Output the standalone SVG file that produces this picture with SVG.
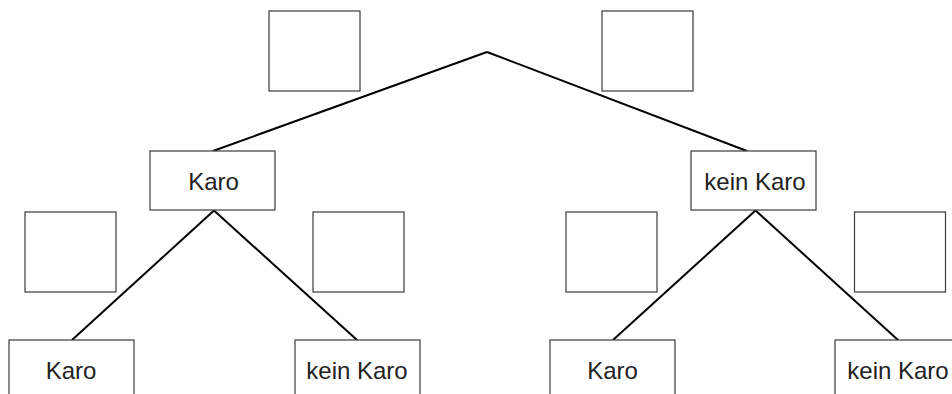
<svg xmlns="http://www.w3.org/2000/svg" width="952" height="394" viewBox="0 0 952 394">
<style>
.box{fill:#fff;stroke:#3a3a3a;stroke-width:1.2}
.lbl{font-family:"Liberation Sans",Arial,sans-serif;font-size:24px;fill:#222;text-anchor:middle}
.edge{stroke:#000;stroke-width:2;fill:none}
</style>
<rect width="952" height="394" fill="#fff"/>
<g id="connectors">
<line class="edge" x1="487" y1="52" x2="213" y2="151"/>
<line class="edge" x1="487" y1="52" x2="747" y2="151"/>
<line class="edge" x1="214" y1="210.5" x2="72" y2="340"/>
<line class="edge" x1="214" y1="210.5" x2="357" y2="340"/>
<line class="edge" x1="755.5" y1="210.5" x2="613" y2="340"/>
<line class="edge" x1="755.5" y1="210.5" x2="898" y2="340"/>
</g>
<g id="prob-top-left"><rect class="box" x="269" y="11" width="91" height="80"/></g>
<g id="prob-top-right"><rect class="box" x="602" y="11" width="91" height="80"/></g>
<g id="prob-l-l"><rect class="box" x="25" y="212" width="91" height="80"/></g>
<g id="prob-l-r"><rect class="box" x="313" y="212" width="91" height="80"/></g>
<g id="prob-r-l"><rect class="box" x="566" y="212" width="91" height="80"/></g>
<g id="prob-r-r"><rect class="box" x="854.5" y="212" width="91" height="80"/></g>
<g id="node-karo"><rect class="box" x="150" y="151" width="125" height="59"/><text class="lbl" x="213.5" y="190">Karo</text></g>
<g id="node-keinkaro"><rect class="box" x="691" y="151" width="125" height="59"/><text class="lbl" x="755" y="190">kein Karo</text></g>
<g id="node-karo-karo"><rect class="box" x="9" y="340" width="125" height="62"/><text class="lbl" x="71" y="379">Karo</text></g>
<g id="node-karo-keinkaro"><rect class="box" x="295" y="340" width="125" height="62"/><text class="lbl" x="357" y="379">kein Karo</text></g>
<g id="node-keinkaro-karo"><rect class="box" x="550" y="340" width="125" height="62"/><text class="lbl" x="612.5" y="379">Karo</text></g>
<g id="node-keinkaro-keinkaro"><rect class="box" x="835" y="340" width="125" height="62"/><text class="lbl" x="898" y="379">kein Karo</text></g>
</svg>
